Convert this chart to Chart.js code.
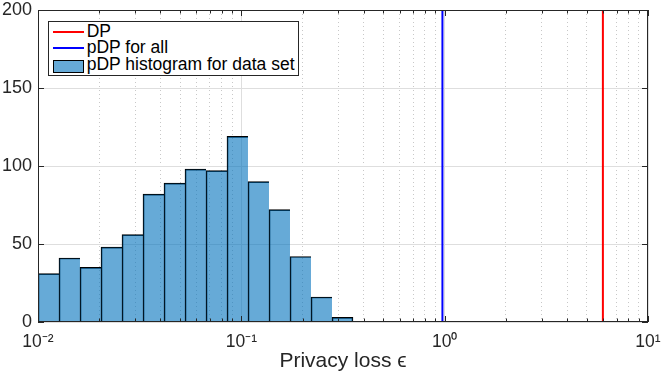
<!DOCTYPE html>
<html><head><meta charset="utf-8">
<script src="https://cdn.jsdelivr.net/npm/chart.js@4/dist/chart.umd.min.js"></script>
<style>
html,body{margin:0;padding:0;background:#fff;}
#wrap{position:relative;width:664px;height:375px;}
#legend{position:absolute;left:48px;top:21px;width:251px;height:55px;box-sizing:border-box;border:1px solid #262626;background:#fff;font-family:'Liberation Sans',Arial,Helvetica,sans-serif;font-size:17.5px;color:#000;}
#legend .row{position:absolute;left:37.7px;white-space:nowrap;line-height:17px;height:17px;}
#legend .sw{position:absolute;left:3.7px;width:31.3px;box-sizing:border-box;}
</style></head><body>
<div id="wrap"><canvas id="c" width="664" height="375"></canvas><div id="legend"></div></div>
<script>
// ---- data ----
const binEdges = [0.01, 0.01268, 0.01609, 0.02041, 0.02589, 0.03284, 0.04166, 0.05284, 0.06702, 0.08503, 0.1078, 0.1368, 0.1735, 0.2201, 0.2792, 0.3540];
const binCounts = [31, 41, 35, 48, 56, 82, 89, 98, 97, 119, 90, 72, 42, 16, 3];
const dpEpsilon = 6.0;
const pdpAllEpsilon = 0.975;
const seriesNames = ['DP', 'pDP for all', 'pDP histogram for data set'];
const xMajorTicks = [0.01, 0.1, 1, 10];
const xTickLabels = ['10\u207B\u00B2', '10\u207B\u00B9', '10\u2070', '10\u00B9'];
const xMinorMultipliers = [2, 3, 4, 5, 6, 7, 8, 9];
const yTicks = [0, 50, 100, 150, 200];
const xTitle = 'Privacy loss \u03F5';

const colors = { dp: '#ff0000', pdp: '#0000ff', histFill: 'rgba(0,114,189,0.6)', histEdge: '#000000' };
const FONT = "'Liberation Sans', Arial, Helvetica, sans-serif";

const binCenters = binCounts.map((_, i) => Math.sqrt(binEdges[i] * binEdges[i + 1]));
const xTickValues = [];
xMajorTicks.forEach((m, k) => {
  xTickValues.push(m);
  if (k < xMajorTicks.length - 1) xMinorMultipliers.forEach(f => xTickValues.push(m * f));
});
const isMajor = v => v != null && xMajorTicks.some(m => Math.abs(m - v) / m < 1e-6);

const framePlugin = {
  id: 'frame',
  afterDraw(chart) {
    const { ctx, chartArea: a, scales: { x, y } } = chart;
    ctx.save();
    ctx.strokeStyle = '#262626';
    ctx.lineWidth = 1;
    ctx.beginPath();
    x.ticks.forEach(t => {
      const px = Math.round(x.getPixelForValue(t.value)) + 0.5;
      const L = isMajor(t.value) ? 6 : 3.5;
      ctx.moveTo(px, a.bottom); ctx.lineTo(px, a.bottom - L);
      ctx.moveTo(px, a.top); ctx.lineTo(px, a.top + L);
    });
    y.ticks.forEach(t => {
      const py = Math.round(y.getPixelForValue(t.value)) + 0.5;
      ctx.moveTo(a.left, py); ctx.lineTo(a.left + 6, py);
      ctx.moveTo(a.right, py); ctx.lineTo(a.right - 6, py);
    });
    ctx.stroke();
    ctx.strokeRect(Math.round(a.left) + 0.5, Math.round(a.top) + 0.5, Math.round(a.right) - Math.round(a.left) - 1, Math.round(a.bottom) - Math.round(a.top) - 1);
    ctx.restore();
  }
};

new Chart(document.getElementById('c'), {
  type: 'bar',
  data: {
    datasets: [
      { type: 'line', label: seriesNames[0], data: [{ x: dpEpsilon, y: yTicks[0] }, { x: dpEpsilon, y: yTicks[yTicks.length - 1] }],
        borderColor: colors.dp, borderWidth: 2, pointRadius: 0, fill: false, order: 0 },
      { type: 'line', label: seriesNames[1], data: [{ x: pdpAllEpsilon, y: yTicks[0] }, { x: pdpAllEpsilon, y: yTicks[yTicks.length - 1] }],
        borderColor: colors.pdp, borderWidth: 2, pointRadius: 0, fill: false, order: 1 },
      { type: 'bar', label: seriesNames[2], data: binCenters.map((c, i) => ({ x: c, y: binCounts[i] })),
        backgroundColor: colors.histFill, borderColor: colors.histEdge,
        borderWidth: ctx => ({ top: 1, left: 1, bottom: 0, right: ctx.dataIndex === binCounts.length - 1 ? 1 : 0 }),
        borderSkipped: false, barThickness: 'flex', categoryPercentage: 1, barPercentage: 1, order: 2 }
    ]
  },
  options: {
    responsive: false, animation: false, devicePixelRatio: 1,
    layout: { padding: { top: 10, right: 16, bottom: 0, left: 0 } },
    plugins: { legend: { display: false }, tooltip: { enabled: false } },
    scales: {
      x: {
        type: 'logarithmic', min: xMajorTicks[0], max: xMajorTicks[xMajorTicks.length - 1], offset: false,
        afterBuildTicks: s => { s.ticks = xTickValues.map(v => ({ value: v })); },
        afterFit: s => { s.height = 53; s.paddingLeft = 0; s.paddingRight = 0; },
        grid: { offset: false, drawTicks: false, lineWidth: 1,
          color: c => (c.tick && isMajor(c.tick.value)) ? '#dedede' : '#c8c8c8' },
        border: { display: false, dash: c => (c.tick && !isMajor(c.tick.value)) ? [1, 3] : [] },
        ticks: { autoSkip: false, maxRotation: 0, minRotation: 0, padding: 10, color: '#262626',
          font: { family: FONT, size: 17.5 },
          callback: v => { const k = xMajorTicks.findIndex(m => Math.abs(m - v) / m < 1e-6); return k >= 0 ? xTickLabels[k] : ''; } },
        title: { display: true, text: xTitle, color: '#262626', font: { family: FONT, size: 21 }, padding: { top: 0, bottom: 1 } }
      },
      y: {
        min: yTicks[0], max: yTicks[yTicks.length - 1],
        afterBuildTicks: s => { s.ticks = yTicks.map(v => ({ value: v })); },
        afterFit: s => { s.width = 38; s.paddingTop = 0; s.paddingBottom = 0; },
        grid: { color: '#dedede', drawTicks: false, lineWidth: 1 },
        border: { display: false },
        ticks: { padding: 6, color: '#262626', font: { family: FONT, size: 18, lineHeight: 1 } }
      }
    }
  },
  plugins: [framePlugin]
});

// legend (HTML, real text)
const lg = document.getElementById('legend');
const rowTops = [0.7, 17.4, 34.1];
const swatches = [
  `<div class="sw" style="top:8.7px;height:2px;background:${colors.dp}"></div>`,
  `<div class="sw" style="top:25.3px;height:2px;background:${colors.pdp}"></div>`,
  `<div class="sw" style="top:38px;height:12.5px;background:#66aad7;border:1px solid #000"></div>`
];
seriesNames.forEach((n, i) => {
  lg.insertAdjacentHTML('beforeend', swatches[i] + `<div class="row" style="top:${rowTops[i]}px">${n}</div>`);
});
</script>
</body></html>
